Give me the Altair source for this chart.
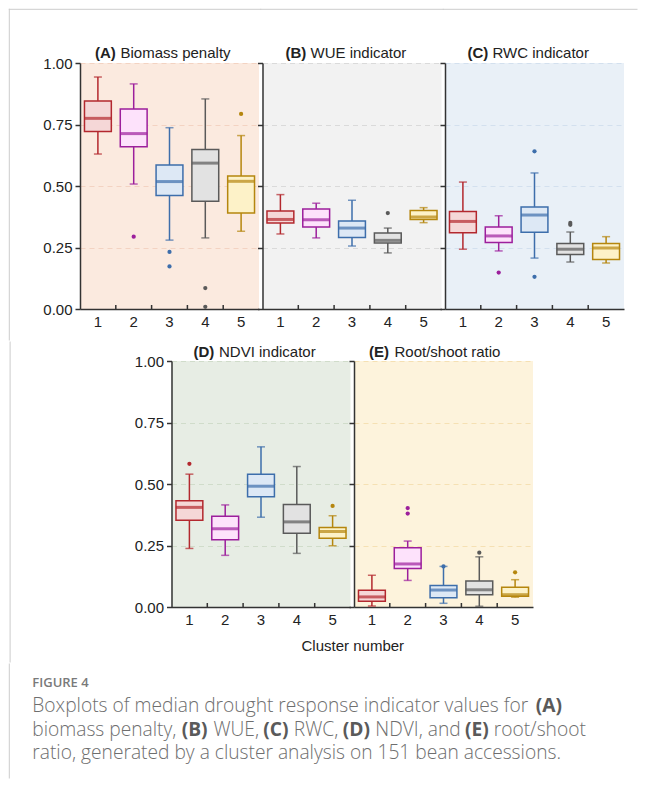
import altair as alt
import pandas as pd

FONT = "Liberation Sans"
CAP_FONT = "Open Sans"

clusters = ["1", "2", "3", "4", "5"]
stroke_colors = ["#b3282e", "#9c1f9c", "#3d6eab", "#5a5a5a", "#b5860e"]
fill_colors = ["#f5d7d7", "#fde2fb", "#dde8f5", "#e2e2e2", "#fdf2c8"]

# ---- Panel A: Biomass penalty
A_lo = [0.630, 0.508, 0.280, 0.289, 0.316]
A_q1 = [0.722, 0.660, 0.461, 0.438, 0.390]
A_med = [0.775, 0.713, 0.518, 0.593, 0.519]
A_q3 = [0.846, 0.813, 0.585, 0.648, 0.541]
A_hi = [0.943, 0.915, 0.737, 0.854, 0.705]
A_out_cluster = ["2", "3", "3", "4", "4", "5"]
A_out_value = [0.294, 0.232, 0.173, 0.085, 0.009, 0.793]

# ---- Panel B: WUE indicator
B_lo = [0.305, 0.289, 0.256, 0.228, 0.351]
B_q1 = [0.350, 0.333, 0.291, 0.268, 0.364]
B_med = [0.364, 0.363, 0.329, 0.279, 0.374]
B_q3 = [0.398, 0.407, 0.358, 0.309, 0.400]
B_hi = [0.465, 0.430, 0.442, 0.329, 0.412]
B_out_cluster = ["4"]
B_out_value = [0.390]

# ---- Panel C: RWC indicator
C_lo = [0.243, 0.236, 0.207, 0.191, 0.187]
C_q1 = [0.310, 0.270, 0.312, 0.222, 0.201]
C_med = [0.356, 0.297, 0.382, 0.243, 0.248]
C_q3 = [0.396, 0.333, 0.415, 0.266, 0.266]
C_hi = [0.516, 0.379, 0.553, 0.313, 0.294]
C_out_cluster = ["2", "3", "3", "4", "4"]
C_out_value = [0.148, 0.641, 0.131, 0.350, 0.342]

# ---- Panel D: NDVI indicator
D_lo = [0.238, 0.210, 0.365, 0.218, 0.249]
D_q1 = [0.353, 0.273, 0.448, 0.300, 0.279]
D_med = [0.405, 0.318, 0.491, 0.346, 0.307]
D_q3 = [0.432, 0.369, 0.540, 0.417, 0.323]
D_hi = [0.540, 0.415, 0.651, 0.571, 0.371]
D_out_cluster = ["1", "5"]
D_out_value = [0.582, 0.411]

# ---- Panel E: Root/shoot ratio
E_lo = [0.004, 0.108, 0.015, 0.003, 0.040]
E_q1 = [0.023, 0.156, 0.038, 0.050, 0.044]
E_med = [0.041, 0.175, 0.069, 0.070, 0.050]
E_q3 = [0.068, 0.241, 0.087, 0.106, 0.080]
E_hi = [0.129, 0.268, 0.165, 0.204, 0.111]
E_out_cluster = ["2", "2", "3", "4", "5"]
E_out_value = [0.402, 0.380, 0.165, 0.221, 0.141]

y_ticks = [0.0, 0.25, 0.5, 0.75, 1.0]
x_title = "Cluster number"

# caption pieces: (text, approx. width in em of regular Open Sans, bold?)
caption_title = "FIGURE 4"
caption_lines = [
    [("Boxplots of median drought response indicator values for", 27.2, False), ("(A)", 1.396, True)],
    [("biomass penalty,", 7.889, False), ("(B)", 1.404, True), ("WUE,", 2.459, False),
     ("(C)", 1.337, True), ("RWC,", 2.414, False), ("(D)", 1.448, True),
     ("NDVI, and", 4.626, False), ("(E)", 1.252, True), ("root/shoot", 5.001, False)],
    [("ratio, generated by a cluster analysis on 151 bean accessions.", 28.6, False)],
]

W, H = 179, 246
FRAME = "#cccccc"
INK = "#333333"


def one(**kw):
    return pd.DataFrame([kw]) if kw else pd.DataFrame([{"k": 0}])


def frame_rule(x, x2, y, y2):
    return alt.Chart(one()).mark_rule(color=FRAME, strokeWidth=1, strokeCap="square").encode(
        x=alt.value(x), x2=alt.value(x2), y=alt.value(y), y2=alt.value(y2)
    )


def text_layer(txt, x, y, size=15, weight="normal", font=FONT, color="#222222", align="left"):
    return alt.Chart(one(t=txt)).mark_text(
        align=align, baseline="middle", fontSize=size, fontWeight=weight, font=font, color=color
    ).encode(x=alt.value(x), y=alt.value(y), text="t:N")


def panel(letter, name, lo, q1, med, q3, hi, oc, ov, bg, grid, show_labels,
          lx, nx, ty, extra):
    df = pd.DataFrame({"cluster": clusters, "lo": lo, "q1": q1, "med": med, "q3": q3, "hi": hi})
    odf = pd.DataFrame({"cluster": oc, "value": ov})
    tdf = pd.DataFrame({"cluster": clusters[1:]})
    xsc = alt.Scale(domain=clusters, paddingInner=0, paddingOuter=0)
    ysc = alt.Scale(domain=[0, 1], nice=False)
    xaxis = alt.Axis(title=None, labelAngle=0, ticks=False, grid=False, domainColor=INK,
                     domainWidth=1.5, labelFont=FONT, labelFontSize=15, labelColor="#222222",
                     labelPadding=5)
    yaxis = alt.Axis(title=None, values=y_ticks, format=".2f", grid=True, gridColor=grid,
                     gridDash=[5, 4], gridWidth=1, tickSize=5, tickColor=INK, tickWidth=1.5,
                     domainColor=INK, domainWidth=1.5, labels=show_labels, labelFont=FONT,
                     labelFontSize=15, labelColor="#222222", labelPadding=3)
    col = alt.Color("cluster:N", scale=alt.Scale(domain=clusters, range=stroke_colors), legend=None)
    stroke = alt.Stroke("cluster:N", scale=alt.Scale(domain=clusters, range=stroke_colors), legend=None)
    fill = alt.Fill("cluster:N", scale=alt.Scale(domain=clusters, range=fill_colors), legend=None)
    X = alt.X("cluster:N", scale=xsc, axis=xaxis)
    base = alt.Chart(df)
    box = base.mark_bar(width=alt.RelativeBandSize(0.75), strokeWidth=1.5).encode(
        x=X, y=alt.Y("q1:Q", scale=ysc, axis=yaxis), y2="q3:Q", fill=fill, stroke=stroke)
    w_up = base.mark_rule(strokeWidth=1.5).encode(x=X, y="q3:Q", y2="hi:Q", color=col)
    w_lo = base.mark_rule(strokeWidth=1.5).encode(x=X, y="lo:Q", y2="q1:Q", color=col)
    cap_up = base.mark_tick(size=8, thickness=1.5).encode(x=X, y="hi:Q", color=col)
    cap_lo = base.mark_tick(size=8, thickness=1.5).encode(x=X, y="lo:Q", color=col)
    median = base.mark_tick(size=27, thickness=3).encode(x=X, y="med:Q", color=col)
    outl = alt.Chart(odf).mark_circle(size=18, opacity=1).encode(x=X, y="value:Q", color=col)
    xticks = alt.Chart(tdf).mark_rule(color=INK, strokeWidth=1.5).encode(
        x=alt.X("cluster:N", scale=xsc, bandPosition=0), y=alt.value(H), y2=alt.value(H - 4))
    t1 = text_layer(letter, lx, ty, weight="bold")
    t2 = text_layer(name, nx, ty)
    layers = [w_up, w_lo, box, cap_up, cap_lo, median, outl, xticks, t1, t2] + extra
    return alt.layer(*layers).properties(
        width=W, height=H, view=alt.ViewBackground(fill=bg, stroke=None))


# frame geometry (page coords -> plot-relative)
GAP = 3.5
A_left = 80
B_left = A_left + W + GAP
C_left = B_left + W + GAP
D_left = 170.7
top_y, row1_plot_top, row2_plot_top = 9.3, 63, 359
row_split, row2_end, page_right = 340, 660, 637

pA = panel("(A)", "Biomass penalty", A_lo, A_q1, A_med, A_q3, A_hi, A_out_cluster, A_out_value,
           "#fbeadf", "#f3d3c2", True, 15, 40.5, -10,
           [frame_rule(top_y - A_left, top_y - A_left, top_y - row1_plot_top, row_split - row1_plot_top),
            frame_rule(top_y - A_left, W + GAP / 2, top_y - row1_plot_top, top_y - row1_plot_top)])
pB = panel("(B)", "WUE indicator", B_lo, B_q1, B_med, B_q3, B_hi, B_out_cluster, B_out_value,
           "#f2f2f2", "#dadada", False, 23, 48, -10,
           [frame_rule(-GAP / 2, W + GAP / 2, top_y - row1_plot_top, top_y - row1_plot_top)])
pC = panel("(C)", "RWC indicator", C_lo, C_q1, C_med, C_q3, C_hi, C_out_cluster, C_out_value,
           "#e9f0f7", "#d3e0ee", False, 22.5, 47.5, -10,
           [frame_rule(-GAP / 2, page_right - C_left, top_y - row1_plot_top, top_y - row1_plot_top)])
pD = panel("(D)", "NDVI indicator", D_lo, D_q1, D_med, D_q3, D_hi, D_out_cluster, D_out_value,
           "#e7ede4", "#d0dcca", True, 22, 47.5, -9,
           [frame_rule(top_y - D_left, top_y - D_left, row_split - row2_plot_top, row2_end - row2_plot_top),
            text_layer(x_title, 352 - D_left, 644 - row2_plot_top, align="center")])
pE = panel("(E)", "Root/shoot ratio", E_lo, E_q1, E_med, E_q3, E_hi, E_out_cluster, E_out_value,
           "#fdf3dc", "#f5e0b3", False, 15, 40.5, -9, [])

spacer = alt.Chart(one()).mark_point(opacity=0).encode(
    x=alt.value(0), y=alt.value(0)
).properties(width=D_left - A_left - GAP, height=H,
             view=alt.ViewBackground(fill=None, stroke=None))

row1 = alt.hconcat(pA, pB, pC, spacing=GAP, bounds="flush")
row2 = alt.hconcat(spacer, pD, pE, spacing=GAP, bounds="flush")

# caption (origin aligned with panel A's left edge, page x = 80, page y = 660)
cap_h = 114
CAP_SIZE = 19.2
LIGHT_K = 0.955          # light weight runs narrower than regular metrics
SPACE_EM = 0.26
CAP_GRAY = "#6e6e6e"
BOLD_GRAY = "#5a5a5a"
x0 = 32.3 - A_left
line_y = [42, 65.5, 89]

caption_layers = [
    frame_rule(top_y - A_left, top_y - A_left, 0, cap_h),
    text_layer(caption_title, x0, 19, size=13, weight=600, font=CAP_FONT, color="#7a7a7a"),
]
for ly, pieces in zip(line_y, caption_lines):
    pos = x0
    for i, (txt, em, bold) in enumerate(pieces):
        if i > 0:
            pos += SPACE_EM * CAP_SIZE * LIGHT_K
        if bold:
            caption_layers.append(text_layer(txt, pos, ly, size=CAP_SIZE, weight="bold",
                                             font=CAP_FONT, color=BOLD_GRAY))
            pos += em * CAP_SIZE
        else:
            caption_layers.append(text_layer(txt, pos, ly, size=CAP_SIZE, weight=300,
                                             font=CAP_FONT, color=CAP_GRAY))
            pos += em * CAP_SIZE * LIGHT_K

caption = alt.layer(*caption_layers).properties(
    width=500, height=cap_h, view=alt.ViewBackground(fill=None, stroke=None))

chart = alt.vconcat(row1, row2, caption, spacing=0).properties(
    padding={"left": 0, "top": 0, "right": 0, "bottom": 0}, background="white"
).configure_view(stroke=None)

chart.save("out.html", embed_options={"renderer": "svg", "actions": False})
